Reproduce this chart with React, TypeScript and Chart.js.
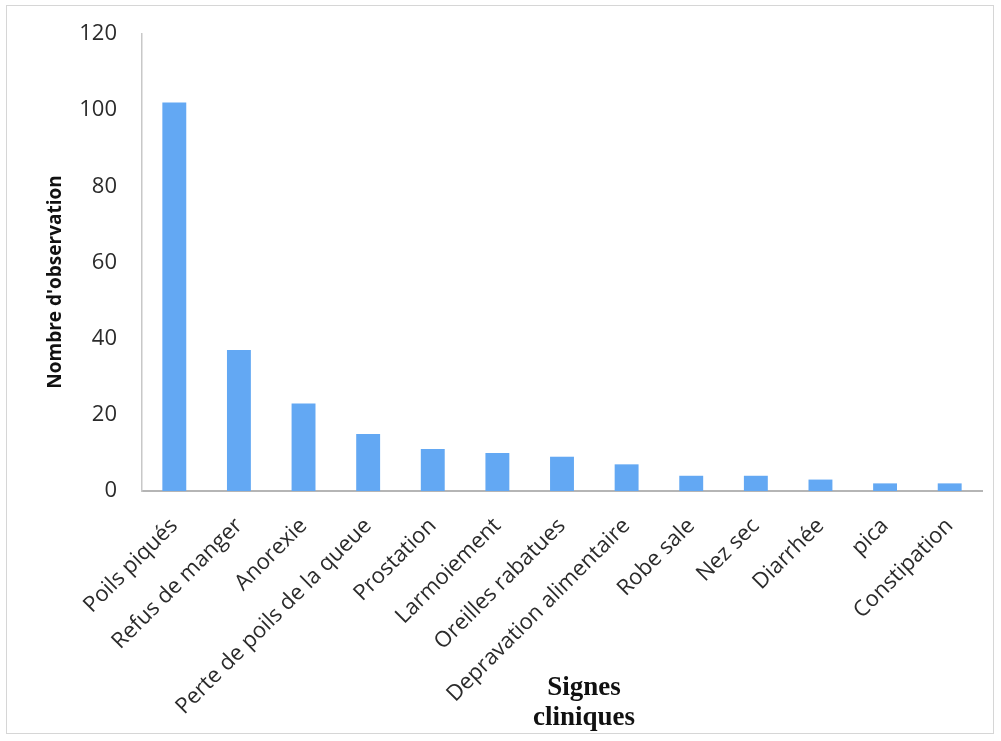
import React, { useEffect, useRef } from "react";
import { Chart, registerables } from "chart.js";

Chart.register(...registerables);

const categories: string[] = [
  "Poils piqués",
  "Refus de manger",
  "Anorexie",
  "Perte de poils de la queue",
  "Prostation",
  "Larmoiement",
  "Oreilles rabatues",
  "Depravation alimentaire",
  "Robe sale",
  "Nez sec",
  "Diarrhée",
  "pica",
  "Constipation",
];
const observations: number[] = [102, 37, 23, 15, 11, 10, 9, 7, 4, 4, 3, 2, 2];
const yTitle = "Nombre d'observation";
const xTitleLines: string[] = ["Signes", "cliniques"];

export default function App() {
  const ref = useRef<HTMLCanvasElement | null>(null);

  useEffect(() => {
    if (!ref.current) return;
    const titles = {
      id: "customTitles",
      afterDraw(chart: any) {
        const ctx = chart.ctx;
        const area = chart.chartArea;
        ctx.save();
        ctx.fillStyle = "#111";
        ctx.font = "bold 19px 'Open Sans'";
        ctx.textAlign = "center";
        ctx.textBaseline = "middle";
        ctx.translate(49, 276);
        ctx.rotate(-Math.PI / 2);
        ctx.fillText(yTitle, 0, 0);
        ctx.restore();
        ctx.save();
        ctx.fillStyle = "#111";
        ctx.font = "bold 27px 'Liberation Serif'";
        ctx.textAlign = "center";
        ctx.textBaseline = "alphabetic";
        const cx = area.left + (area.right - area.left) / 2 + 22;
        ctx.fillText(xTitleLines[0], cx, 689);
        ctx.fillText(xTitleLines[1], cx, 719);
        ctx.restore();
      },
    };
    const chart = new Chart(ref.current, {
      type: "bar",
      data: {
        labels: categories,
        datasets: [
          {
            data: observations,
            backgroundColor: "#63a8f3",
            borderWidth: 0,
            barPercentage: 0.37,
            categoryPercentage: 1,
          },
        ],
      },
      options: {
        animation: false,
        responsive: false,
        maintainAspectRatio: false,
        layout: { padding: { left: 0, right: 11, top: 28, bottom: 0 } },
        plugins: {
          legend: { display: false },
          tooltip: { enabled: false },
          title: { display: false },
        },
        scales: {
          x: {
            grid: { display: false, drawTicks: false },
            border: { display: true, color: "#b5b5b5", width: 2 },
            ticks: {
              autoSkip: false,
              maxRotation: 45,
              minRotation: 45,
              padding: 22,
              color: "#2b2b2b",
              font: { family: "'Open Sans'", size: 22 },
            },
            afterFit(scale: any) {
              scale.height = 242;
              scale.paddingLeft = 0;
              scale.paddingRight = 0;
              scale.paddingTop = 0;
              scale.paddingBottom = 0;
            },
          },
          y: {
            min: 0,
            max: 120,
            grid: { display: false, drawTicks: false },
            border: { display: true, color: "#c8c8c8", width: 1.5 },
            ticks: {
              stepSize: 20,
              padding: 25,
              color: "#2b2b2b",
              font: { family: "'Open Sans'", size: 22 },
            },
            afterFit(scale: any) {
              scale.width = 135;
              scale.paddingLeft = 0;
              scale.paddingRight = 0;
              scale.paddingTop = 0;
              scale.paddingBottom = 0;
            },
          },
        },
      },
      plugins: [titles],
    });
    return () => chart.destroy();
  }, []);

  return (
    <div
      style={{
        position: "absolute",
        left: 6,
        top: 5,
        width: 988,
        height: 729,
        border: "1px solid #d6d6d6",
        boxSizing: "border-box",
        background: "#fff",
      }}
    >
      <canvas ref={ref} width={986} height={727} style={{ display: "block" }} />
    </div>
  );
}
